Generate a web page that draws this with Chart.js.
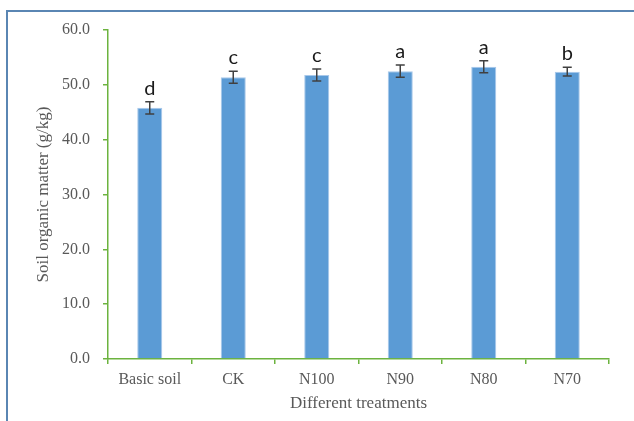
<!DOCTYPE html>
<html>
<head>
<meta charset="utf-8">
<script src="https://cdn.jsdelivr.net/npm/chart.js@4/dist/chart.umd.min.js"></script>
<style>
  body { margin: 0; background: #fff; overflow: hidden; }
  .frame {
    position: absolute; left: 6px; top: 10px; width: 700px; height: 500px;
    border-top: 2px solid #5a86b3; border-left: 2px solid #5a86b3;
  }
  .box { position: absolute; left: 0; top: 0; width: 634px; height: 421px; }
</style>
</head>
<body>
<div class="frame"></div>
<div class="box"><canvas id="myChart"></canvas></div>
<script>
const categorias = ['Basic soil', 'CK', 'N100', 'N90', 'N80', 'N70'];
const valores = [45.8, 51.4, 51.8, 52.5, 53.3, 52.4];
const erros = [1.1, 1.1, 1.1, 1.1, 1.1, 0.8];
const letras = ['d', 'c', 'c', 'a', 'a', 'b'];
const yTicks = [0, 10, 20, 30, 40, 50, 60];

const verde = '#6cb33f';
const cinza = '#595959';

// error bars + significance letters
const barrasErro = {
  id: 'barrasErro',
  afterDatasetsDraw(chart) {
    const ctx = chart.ctx;
    const y = chart.scales.y;
    const meta = chart.getDatasetMeta(0);
    ctx.save();
    meta.data.forEach((bar, i) => {
      const topo = y.getPixelForValue(valores[i] + erros[i]);
      const base = y.getPixelForValue(valores[i] - erros[i]);
      ctx.strokeStyle = '#404040';
      ctx.lineWidth = 1.5;
      ctx.beginPath();
      ctx.moveTo(bar.x, topo); ctx.lineTo(bar.x, base);
      ctx.moveTo(bar.x - 4.5, topo); ctx.lineTo(bar.x + 4.5, topo);
      ctx.moveTo(bar.x - 4.5, base); ctx.lineTo(bar.x + 4.5, base);
      ctx.stroke();

      ctx.fillStyle = '#1a1a1a';
      ctx.font = '20px Lato';
      ctx.textAlign = 'center';
      ctx.textBaseline = 'alphabetic';
      ctx.fillText(letras[i], bar.x, topo - 7);
    });
    ctx.restore();
  }
};

new Chart(document.getElementById('myChart'), {
  type: 'bar',
  data: {
    labels: categorias,
    datasets: [{
      data: valores,
      backgroundColor: '#5b9bd5',
      borderColor: '#a8c8ea',
      borderWidth: 1,
      categoryPercentage: 1,
      barPercentage: 0.3
    }]
  },
  options: {
    responsive: true,
    maintainAspectRatio: false,
    animation: false,
    layout: { padding: { left: 20, top: 30, right: 25, bottom: 0 } },
    plugins: { legend: { display: false }, tooltip: { enabled: false } },
    scales: {
      x: {
        afterFit(scale) { scale.height = 62; },
        grid: { drawOnChartArea: false, drawTicks: true, tickLength: 5, color: verde, lineWidth: 1.5 },
        border: { color: verde, width: 1.5 },
        ticks: { color: cinza, font: { family: 'Liberation Serif', size: 16 }, padding: 6 },
        title: {
          display: true, text: 'Different treatments', color: cinza,
          font: { family: 'Liberation Serif', size: 17 }, padding: { top: 0, bottom: 7 }
        }
      },
      y: {
        min: 0, max: 60,
        afterFit(scale) { scale.width = 88; },
        afterBuildTicks(scale) { scale.ticks = yTicks.map(v => ({ value: v })); },
        grid: { drawOnChartArea: false, drawTicks: true, tickLength: 5, color: verde, lineWidth: 1.5 },
        border: { color: verde, width: 1.5 },
        ticks: {
          color: cinza, font: { family: 'Liberation Serif', size: 16 }, padding: 13,
          callback: v => v.toFixed(1)
        },
        title: {
          display: true, text: 'Soil organic matter (g/kg)', color: cinza,
          font: { family: 'Liberation Serif', size: 17 }, padding: { top: 13, bottom: 0 }
        }
      }
    }
  },
  plugins: [barrasErro]
});
</script>
</body>
</html>
